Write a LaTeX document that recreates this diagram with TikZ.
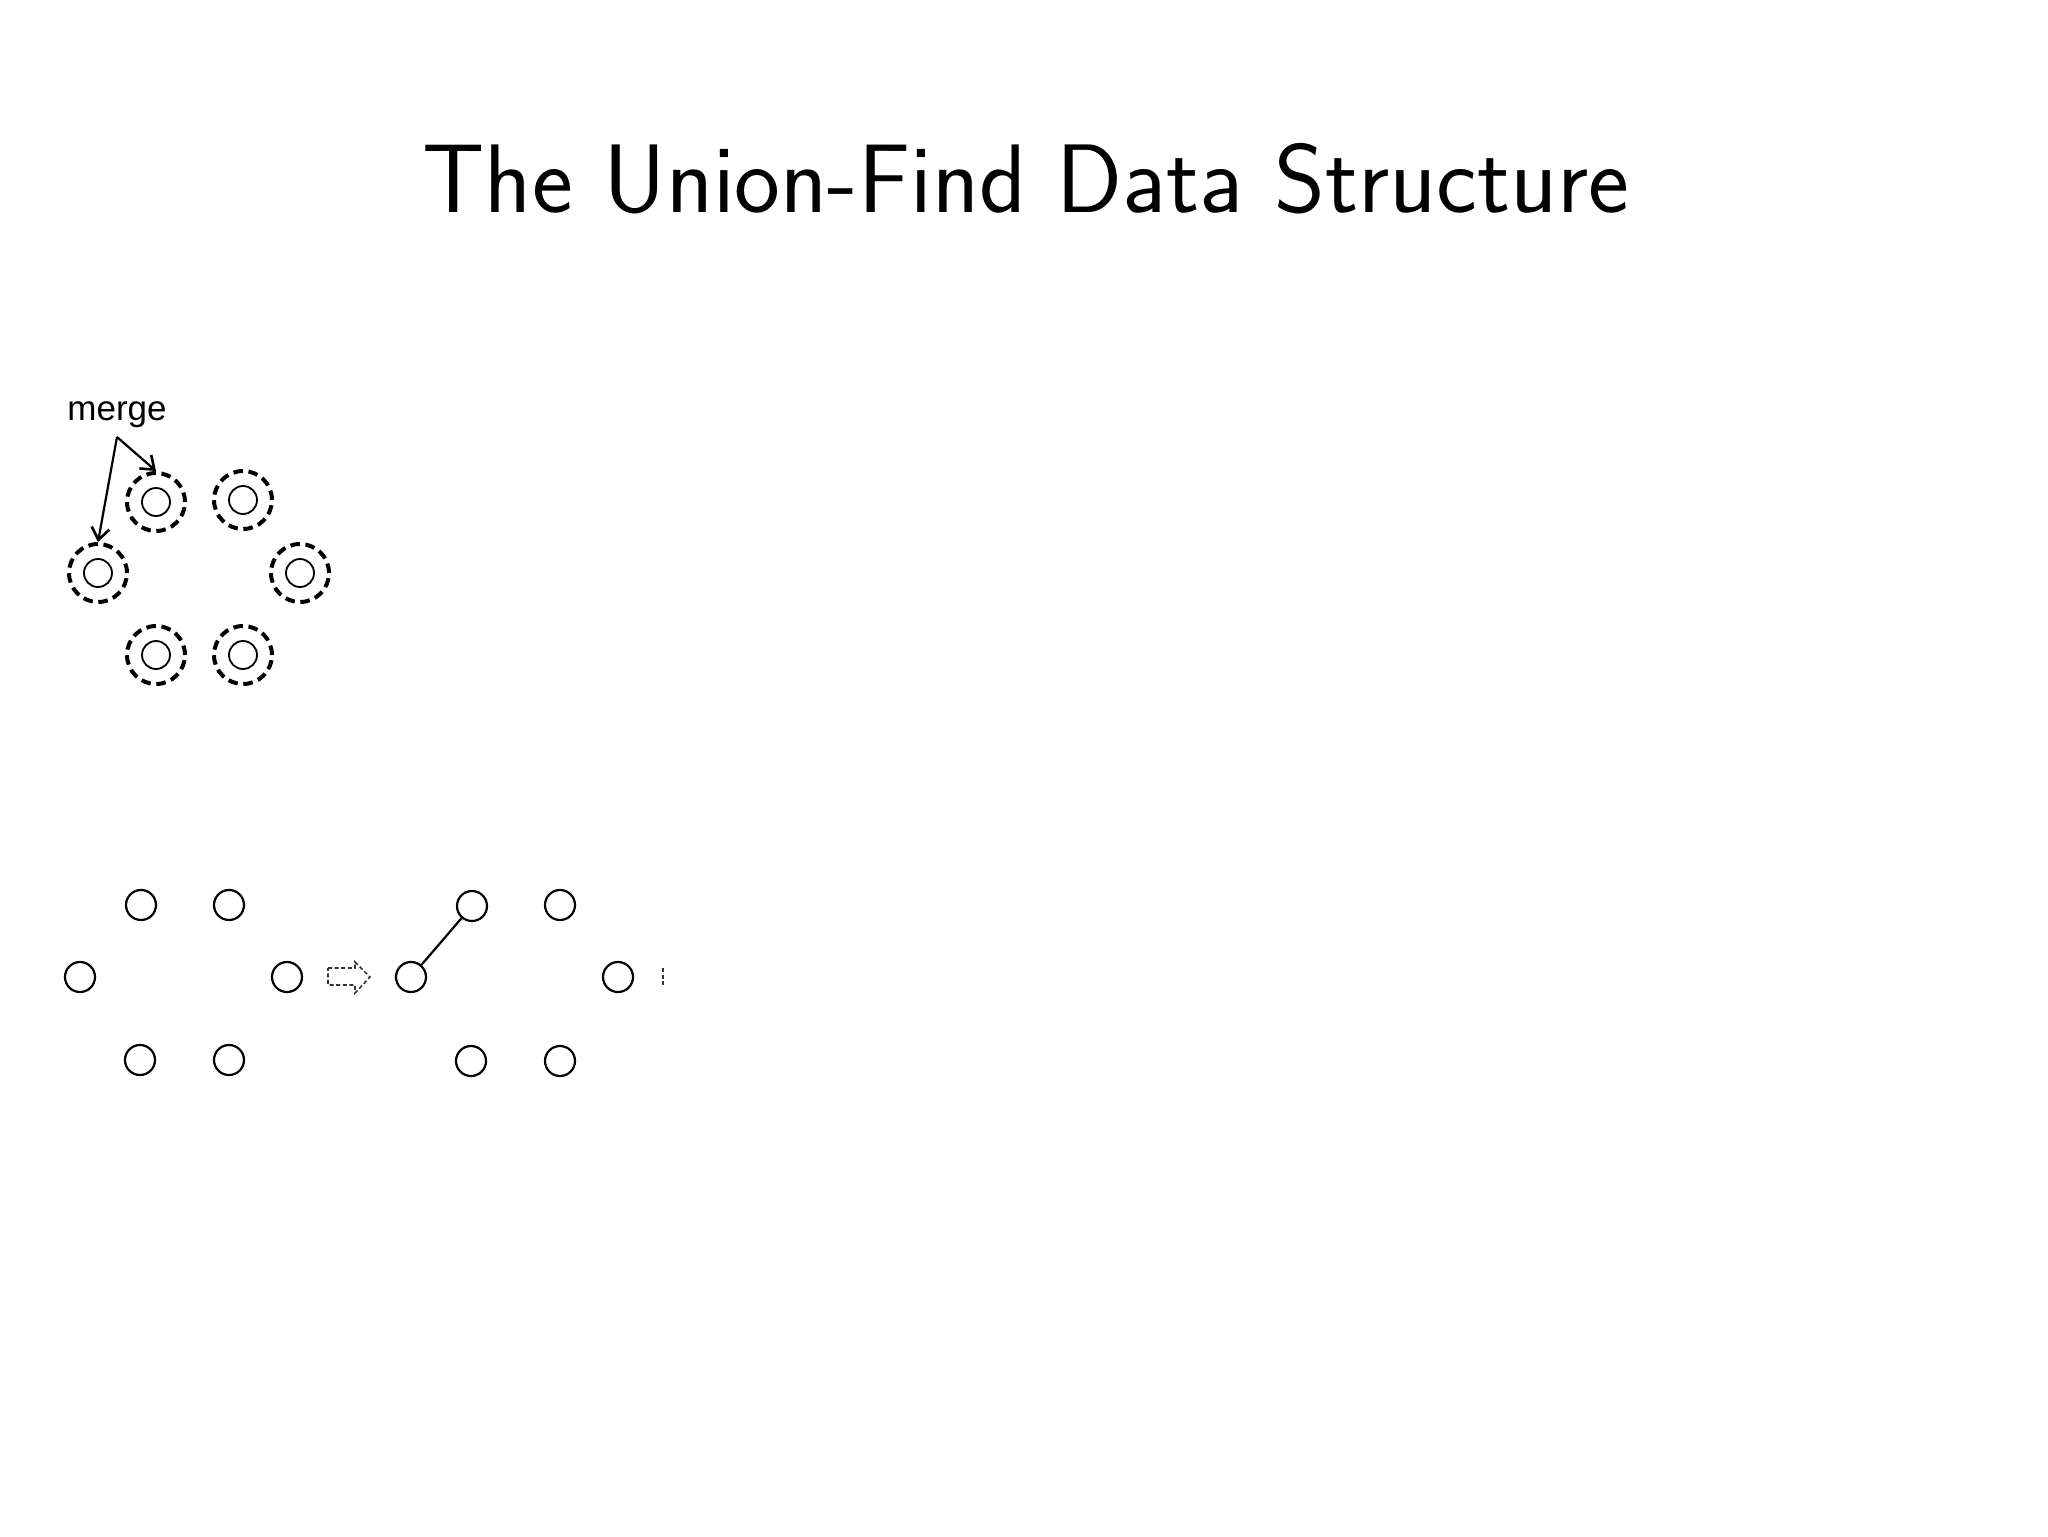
\documentclass[tikz,border=0pt]{standalone}
\usepackage{fontspec}
\newfontfamily\arialfont{Liberation Sans}
\usetikzlibrary{arrows.meta}
\tikzset{
  outerc/.style={circle,draw,line width=2pt,dash pattern=on 4.8pt off 2.8pt,minimum size=29pt,inner sep=0pt},
  innerc/.style={circle,draw,line width=0.9pt,minimum size=14pt,inner sep=0pt},
  plainc/.style={circle,draw,line width=1.1pt,minimum size=15pt,inner sep=0pt},
  mergearrow/.style={line width=1.1pt,-{Straight Barb[length=6pt,width=9pt,line width=1.3pt]}},
  blockarrow/.style={line width=0.8pt,dash pattern=on 2pt off 1.3pt,black!80},
}
\begin{document}
\begin{tikzpicture}[x=0.5pt,y=-0.5pt]
\useasboundingbox (0,0) rectangle (2048,1536);
\fill[white] (0,0) rectangle (2048,1536);
% title
\node[anchor=base,inner sep=0pt,font=\sffamily\fontsize{48.7}{58}\selectfont] (title) at (1026,212) {The Union-Find Data Structure};
% merge label
\node[anchor=base west,inner sep=0pt,font=\arialfont\fontsize{17.5}{20}\selectfont] (merge) at (67,420) {merge};
\coordinate (apex) at (117,437);
% dashed clusters
\foreach \n/\x/\y in {tl/156/502, tr/243/500, l/98/573, r/300/573, bl/156/655, br/243/655}{
  \node[outerc] (o\n) at (\x,\y) {};
  \node[innerc] (i\n) at (\x,\y) {};
}
\draw[mergearrow] (apex) -- (otl.north);
\draw[mergearrow] (apex) -- (ol.north);
% bottom-left group
\foreach \n/\x/\y in {tl/141/905, tr/229/905, l/80/977, r/287/977, bl/140/1060, br/229/1060}{
  \node[plainc] (a\n) at (\x,\y) {};
}
% block arrow
\draw[blockarrow] (328,968) -- (355,968) -- (355,962) -- (370,977) -- (355,993) -- (355,985) -- (328,985) -- cycle;
% bottom-right group
\foreach \n/\x/\y in {tl/472/906, tr/560/905, l/411/977, r/618/977, bl/471/1061, br/560/1061}{
  \node[plainc] (b\n) at (\x,\y) {};
}
\draw[line width=1.1pt] (bl) -- (btl);
% truncated piece
\draw[blockarrow] (663,968) -- (663,985);
\end{tikzpicture}
\end{document}
